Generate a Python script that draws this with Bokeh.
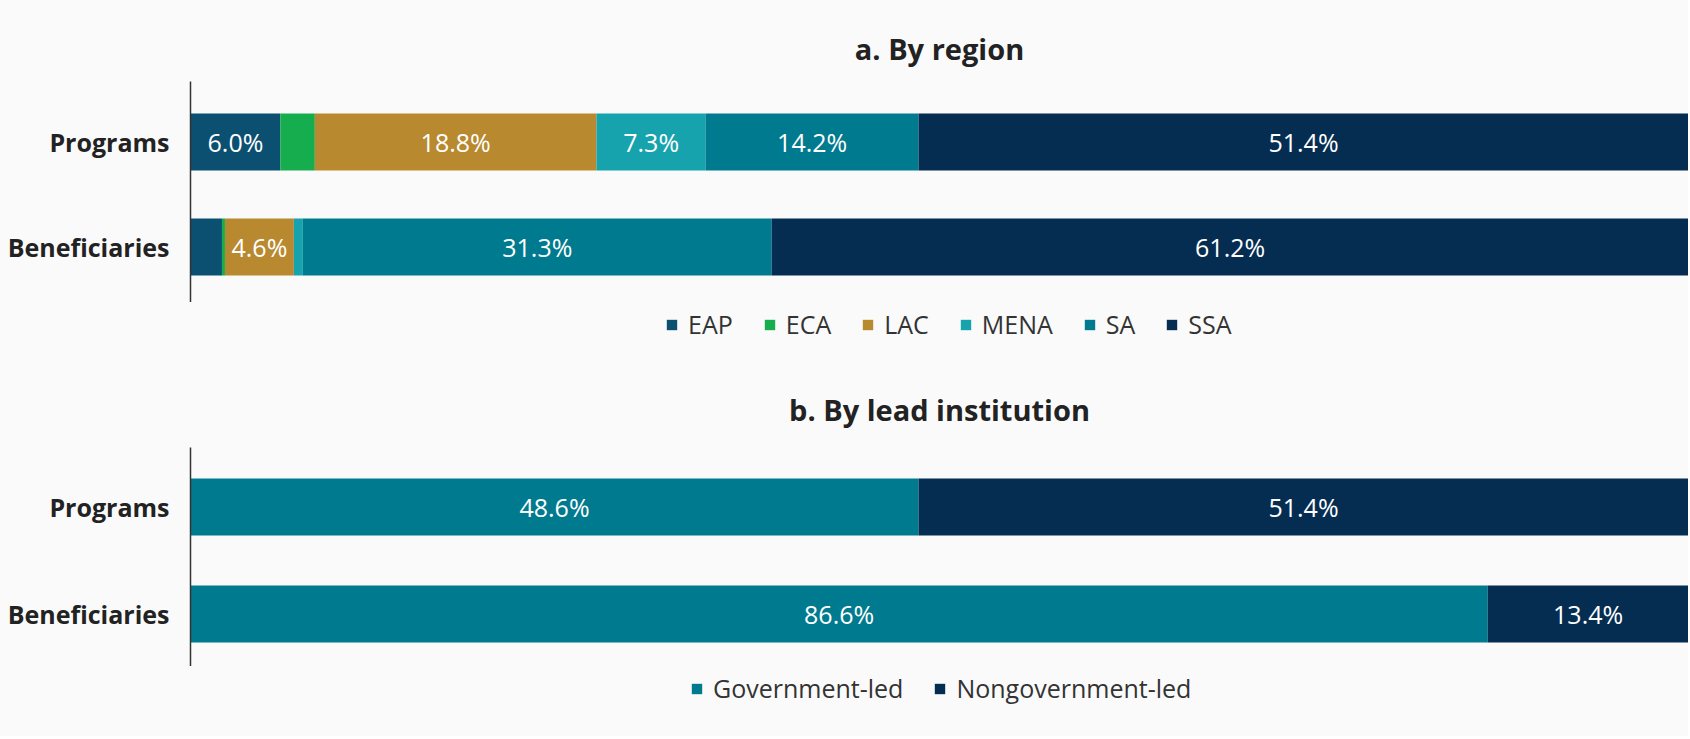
import numpy as np
from bokeh.plotting import figure
from bokeh.models import ColumnDataSource, Legend, LegendItem, Range1d, FixedTicker
from bokeh.layouts import column
from bokeh.embed import file_html
from bokeh.resources import INLINE
from bokeh.core.properties import value

# ---- data ----
rows = ["Programs", "Beneficiaries"]

regions = ["EAP", "ECA", "LAC", "MENA", "SA", "SSA"]
region_programs = [6.0, 2.3, 18.8, 7.3, 14.2, 51.4]
region_beneficiaries = [2.1, 0.2, 4.6, 0.6, 31.3, 61.2]
region_colors = ["#0b5070", "#16ad4f", "#b8892f", "#17a3ae", "#007a8e", "#052d52"]

leads = ["Government-led", "Nongovernment-led"]
lead_programs = [48.6, 51.4]
lead_beneficiaries = [86.6, 13.4]
lead_colors = ["#007a8e", "#052d52"]

FONT = "Open Sans"
BG = "#fafafa"
LABEL_SIZE = "25px"
FRAME_W = 1498
LEFT = 190

# row positions: first row on top
ypos = list(range(len(rows)))[::-1]


def make_source(series, prog, ben):
    data = {"y": ypos, "row": rows}
    for s, a, b in zip(series, prog, ben):
        data[s] = [a, b]
    return ColumnDataSource(data)


def panel(title, series, prog, ben, colors, frame_h, top, title_standoff, pad_top, pad_bottom, bar_h):
    p = figure(frame_width=FRAME_W, frame_height=frame_h,
               y_range=Range1d(min(ypos) - pad_bottom, max(ypos) + pad_top),
               x_range=Range1d(0, 100),
               output_backend="svg", toolbar_location=None,
               min_border_left=LEFT, min_border_right=0,
               min_border_top=top, min_border_bottom=0,
               background_fill_color=BG, border_fill_color=BG)
    src = make_source(series, prog, ben)
    p.hbar_stack(series, y="y", height=bar_h, color=colors, source=src, line_width=0)

    # labels centred in each segment wide enough to hold them
    lx, ly, lt = [], [], []
    for yy, vals in zip(ypos, [prog, ben]):
        v = np.array(vals)
        right = np.cumsum(v)
        left = right - v
        for val, l in zip(v, left):
            if val >= 4:
                lx.append(float(l + val / 2))
                ly.append(yy)
                lt.append(f"{val:.1f}%")
    lsrc = ColumnDataSource(dict(x=lx, y=ly, t=lt))
    p.text(x="x", y="y", text="t", source=lsrc, text_align="center", text_baseline="middle",
           text_color="white", text_font_size=LABEL_SIZE, text_font=value(FONT))

    p.title.text = title
    p.title.align = "center"
    p.title.text_font = FONT
    p.title.text_font_size = "29px"
    p.title.text_font_style = "bold"
    p.title.text_color = "#222222"
    p.title.standoff = title_standoff

    p.xaxis.visible = False
    p.xgrid.visible = False
    p.ygrid.visible = False
    p.outline_line_color = None
    p.yaxis.ticker = FixedTicker(ticks=ypos)
    p.yaxis.major_label_overrides = {y: r for y, r in zip(ypos, rows)}
    p.yaxis.axis_line_color = "#333333"
    p.yaxis.axis_line_width = 1.5
    p.yaxis.major_tick_line_color = None
    p.yaxis.minor_tick_line_color = None
    p.yaxis.major_label_text_font = FONT
    p.yaxis.major_label_text_font_size = LABEL_SIZE
    p.yaxis.major_label_text_font_style = "bold"
    p.yaxis.major_label_text_color = "#222222"
    p.yaxis.major_label_standoff = 15
    return p


def legend_strip(series, prog, ben, colors, frame_h, loc):
    q = figure(frame_width=FRAME_W, frame_height=frame_h, x_range=Range1d(0, 100),
               y_range=Range1d(10, 11), output_backend="svg", toolbar_location=None,
               min_border_left=LEFT, min_border_right=0, min_border_top=0, min_border_bottom=0,
               background_fill_color=BG, border_fill_color=BG)
    src = make_source(series, prog, ben)
    rends = q.hbar_stack(series, y="y", height=0.5, color=colors, source=src, line_width=0)
    for r in rends:
        r.visible = False
    legend = Legend(items=[LegendItem(label=s, renderers=[r]) for s, r in zip(series, rends)],
                    orientation="horizontal", location=loc,
                    label_text_font=FONT, label_text_font_size=LABEL_SIZE,
                    label_text_color="#333333",
                    glyph_width=13, glyph_height=13, label_standoff=10, spacing=30,
                    padding=0, margin=0, border_line_color=None,
                    background_fill_alpha=0, inactive_fill_alpha=0)
    q.add_layout(legend)
    q.axis.visible = False
    q.grid.visible = False
    q.outline_line_color = None
    return q


p1 = panel("a. By region", regions, region_programs, region_beneficiaries, region_colors,
           221, 81, 28, 60.5 / 105, 55.5 / 105, 57 / 105)
l1 = legend_strip(regions, region_programs, region_beneficiaries, region_colors, 44, (475, 5))
p2 = panel("b. By lead institution", leads, lead_programs, lead_beneficiaries, lead_colors,
           219, 101, 37, 59.5 / 107, 52.5 / 107, 57 / 107)
l2 = legend_strip(leads, lead_programs, lead_beneficiaries, lead_colors, 70, (500, 31))

layout = column(p1, l1, p2, l2, spacing=0, styles={"background-color": BG})
open("out.html", "w").write(file_html(layout, INLINE))
